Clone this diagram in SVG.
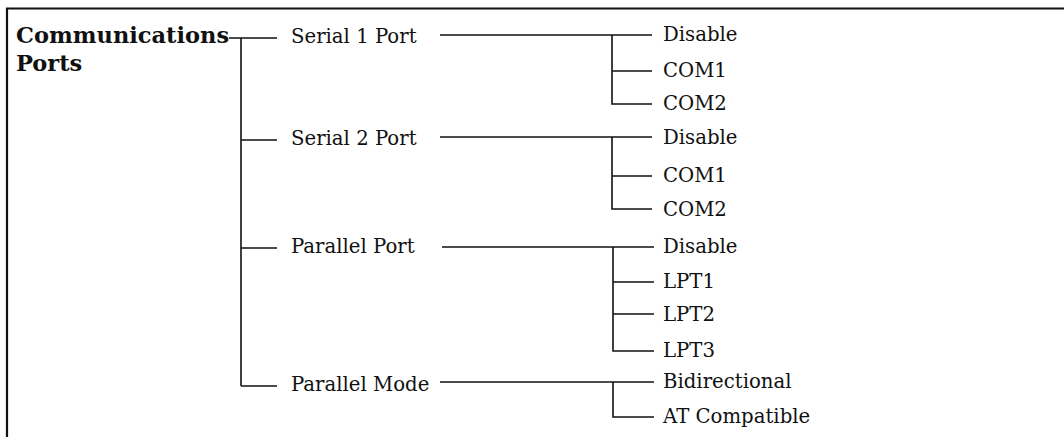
<svg xmlns="http://www.w3.org/2000/svg" width="1064" height="437" viewBox="0 0 1064 437">
<style>
text{font-family:"DejaVu Serif","Liberation Serif",serif;fill:#111;font-size:19.7px}
.b{font-weight:bold;font-size:22.5px}
.ln{stroke:#111;stroke-width:1.6;fill:none}
.frame{stroke:#111;stroke-width:2.2;fill:none}
</style>
<rect width="1064" height="437" fill="#fff"/>
<path class="frame" d="M7,437 V8.5 H1064"/>
<g id="connectors">
<path class="ln" d="M229,38 H277 M241,38 V386 M241,140 H277 M241,248 H277 M241,386 H277"/>
<path class="ln" d="M440,35 H652 M612,35 V104 H652 M612,71 H652"/>
<path class="ln" d="M440,137 H652 M612,137 V209 H652 M612,176 H652"/>
<path class="ln" d="M442,247 H654 M613,247 V351 H654 M613,282 H654 M613,314 H654"/>
<path class="ln" d="M440,382 H654 M613,382 V417 H654"/>
</g>
<g id="root"><text class="b" x="16" y="43">Communications</text><text class="b" x="16" y="71">Ports</text></g>
<g id="serial1"><text x="291" y="43">Serial 1 Port</text></g>
<g id="serial2"><text x="291" y="145">Serial 2 Port</text></g>
<g id="parport"><text x="291" y="253">Parallel Port</text></g>
<g id="parmode"><text x="291" y="391">Parallel Mode</text></g>
<g id="s1-disable"><text x="663" y="41">Disable</text></g>
<g id="s1-com1"><text x="663" y="77">COM1</text></g>
<g id="s1-com2"><text x="663" y="110">COM2</text></g>
<g id="s2-disable"><text x="663" y="144">Disable</text></g>
<g id="s2-com1"><text x="663" y="182">COM1</text></g>
<g id="s2-com2"><text x="663" y="216">COM2</text></g>
<g id="pp-disable"><text x="663" y="253">Disable</text></g>
<g id="pp-lpt1"><text x="663" y="288">LPT1</text></g>
<g id="pp-lpt2"><text x="663" y="321">LPT2</text></g>
<g id="pp-lpt3"><text x="663" y="357">LPT3</text></g>
<g id="pm-bidir"><text x="663" y="388">Bidirectional</text></g>
<g id="pm-at"><text x="663" y="423">AT Compatible</text></g>
</svg>
